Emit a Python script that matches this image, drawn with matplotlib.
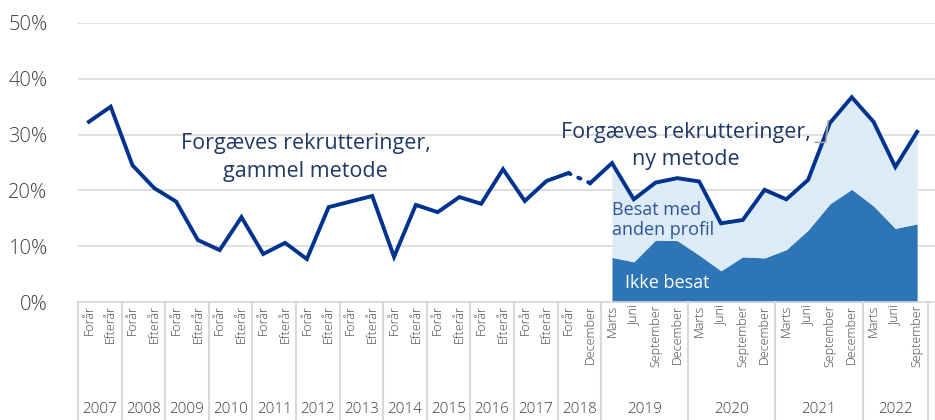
import numpy as np
import matplotlib.pyplot as plt

plt.rcParams['font.family'] = ['Open Sans', 'DejaVu Sans']

# x categories
years = ['2007', '2008', '2009', '2010', '2011', '2012', '2013', '2014', '2015',
         '2016', '2017', '2018', '2019', '2020', '2021', '2022']
periods = (['Forår', 'Efterår'] * 11 + ['Forår', 'December']
           + ['Marts', 'Juni', 'September', 'December'] * 3
           + ['Marts', 'Juni', 'September'])
year_sizes = [2] * 12 + [4, 4, 4, 3]

# gammel metode (2007 Forår - 2018 Forår), percent
old_vals = [32.3, 35.0, 24.5, 20.4, 18.0, 11.1, 9.3, 15.2, 8.6, 10.6, 7.7, 17.0,
            18.0, 19.0, 8.1, 17.4, 16.1, 18.8, 17.6, 23.8, 18.1, 21.7, 23.1]
# ny metode (2018 December - 2022 September), percent
new_vals = [21.3, 24.9, 18.4, 21.4, 22.2, 21.6, 14.1, 14.7, 20.1, 18.4, 21.9,
            32.1, 36.7, 32.3, 24.2, 30.5]
# ikke besat (2019 Marts - 2022 September), percent
ikke_besat = [8.0, 7.2, 11.1, 11.0, 8.4, 5.6, 8.1, 7.9, 9.4, 12.9, 17.6, 20.2,
              17.2, 13.2, 14.0]

navy = '#00338D'
dark_blue = '#2E75B6'
light_blue = '#DDEBF7'
grid_c = '#D9D9D9'
txt = '#404040'

fig = plt.figure(figsize=(9.35, 4.2), dpi=100)
ax = fig.add_axes([78 / 935, 118 / 420, 1 - 78 / 935, 279 / 420])

x_all = np.arange(len(periods))
x_old = x_all[:len(old_vals)]
x_new = x_all[len(old_vals):]
x_area = x_all[len(old_vals) + 1:]
new_arr = np.array(new_vals) / 100
ikke = np.array(ikke_besat) / 100

ax.fill_between(x_area, 0, ikke, color=dark_blue, lw=0, zorder=2)
ax.fill_between(x_area, ikke, new_arr[1:], color=light_blue, lw=0, zorder=2)
ax.plot(x_old, np.array(old_vals) / 100, color=navy, lw=2.8, zorder=4,
        solid_joinstyle='miter')
ax.plot(x_new, new_arr, color=navy, lw=2.8, zorder=4, solid_joinstyle='miter')
ax.plot([x_old[-1], x_new[0]], [old_vals[-1] / 100, new_vals[0] / 100],
        color=navy, lw=2.8, ls=(0, (0.6, 2.2)), dash_capstyle='round', zorder=4)

# small leader line
ax.plot([33.33, 33.8, 33.92], [0.286, 0.286, 0.324], color='#A6A6A6', lw=1.2,
        zorder=5)

ax.set_ylim(0, 0.5)
ax.set_xlim(-0.5, 38.82)
ax.set_yticks(np.arange(0, 0.51, 0.1))
ax.set_yticklabels([f'{int(v * 100)}%' for v in np.arange(0, 0.51, 0.1)],
                   fontsize=14.5, color=txt, fontweight='light')
ax.tick_params(axis='y', length=0, pad=22)
ax.yaxis.grid(True, color=grid_c, lw=1.2)
ax.set_axisbelow(True)
for s in ['left', 'right', 'top']:
    ax.spines[s].set_visible(False)
ax.spines['bottom'].set_color(grid_c)
ax.spines['bottom'].set_linewidth(1.2)

ax.set_xticks(x_all)
ax.set_xticklabels(periods, rotation=90, fontsize=9, color=txt,
                   va='top', ha='center', fontweight='light')
ax.tick_params(axis='x', length=0, pad=2)

# year separators and labels
tr = ax.get_xaxis_transform()
edges = np.concatenate([[0], np.cumsum(year_sizes)]) - 0.5
for e in edges:
    ax.plot([e, e], [0, -0.43], color=grid_c, lw=1.5, transform=tr,
            clip_on=False)
for i, y in enumerate(years):
    ax.text((edges[i] + edges[i + 1]) / 2, -0.387, y, transform=tr,
            ha='center', va='center', fontsize=11, color=txt,
            fontweight='light')

ax.text(9.95, 0.259, 'Forgæves rekrutteringer,\ngammel metode', ha='center',
        va='center', fontsize=15.5, color='#1F3864', linespacing=1.4, zorder=6)
ax.text(27.4, 0.28, 'Forgæves rekrutteringer,\nny metode', ha='center',
        va='center', fontsize=15.5, color='#1F3864', linespacing=1.4, zorder=6)
ax.text(24.0, 0.147, 'Besat med\nanden profil', ha='left', va='center',
        fontsize=13, color='#2F5597', linespacing=1.15, zorder=6)
ax.text(24.6, 0.034, 'Ikke besat', ha='left', va='center', fontsize=13,
        color='white', zorder=6)

fig.savefig('out.png', dpi=100)
